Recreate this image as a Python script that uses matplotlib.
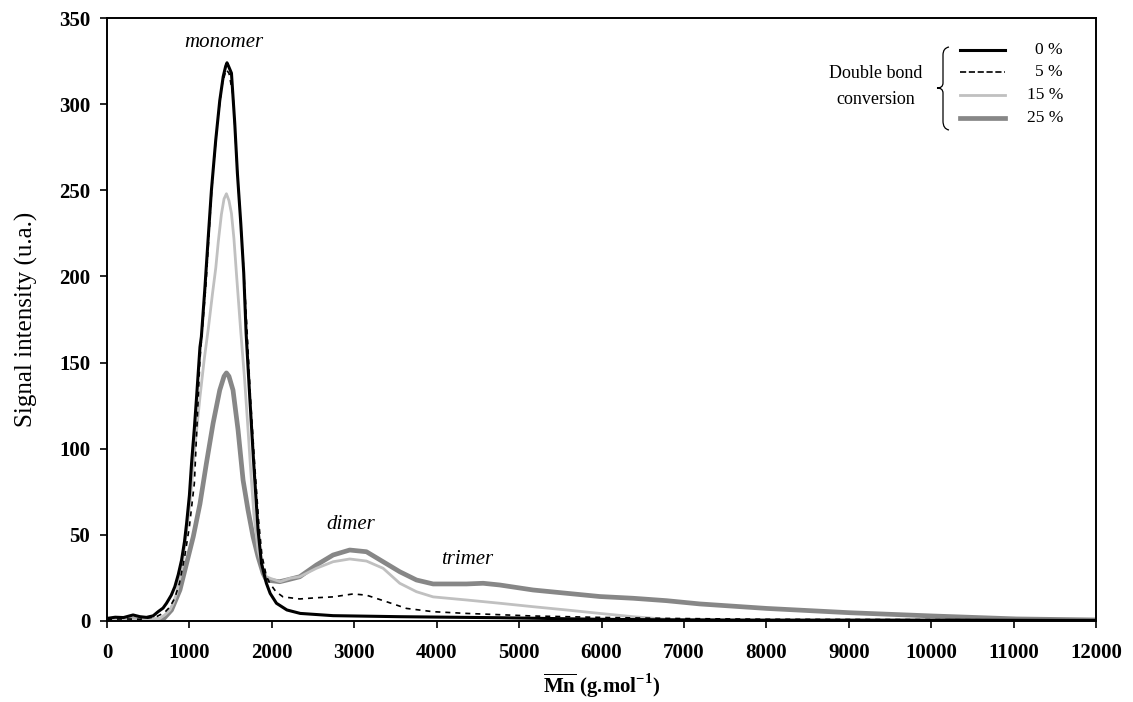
import matplotlib
matplotlib.use("Agg")
import matplotlib.pyplot as plt
from matplotlib.path import Path
from matplotlib.patches import PathPatch

plt.rcParams["font.family"] = ["Liberation Serif", "DejaVu Serif"]
plt.rcParams["mathtext.fontset"] = "custom"
plt.rcParams["mathtext.rm"] = "Liberation Serif"
plt.rcParams["mathtext.bf"] = "Liberation Serif:bold"

# Data (Mn in g/mol, signal in u.a.)
x_0 = [0, 100, 200, 316, 400, 479, 560, 620, 680, 722, 780, 823, 865, 905, 940,
       966, 1000, 1026, 1060, 1087, 1128, 1145, 1186, 1226, 1267, 1319, 1368,
       1410, 1440, 1456, 1475, 1510, 1550, 1582, 1623, 1659, 1688, 1732, 1780,
       1833, 1874, 1934, 1980, 2056, 2183, 2345, 2743, 3552, 4766, 5980, 7000,
       8000, 9000, 10000, 11000, 12000]
y_0 = [1.5, 2.2, 2.0, 3.5, 2.5, 2.1, 3.0, 5.4, 7.5, 10.3, 15, 19.9, 27, 35.4, 46,
       56.7, 73, 91.5, 112, 130, 159, 165, 192, 221, 250, 279, 302,
       316, 322, 324, 322, 318, 289, 260, 231, 202, 167, 130, 91.5,
       52.8, 33.5, 21.9, 16, 10.3, 6.4, 4.4, 3.1, 2.5, 1.9, 1.0, 0.6,
       0.5, 0.5, 0.5, 0.4, 0.3]

x_5 = [0, 200, 400, 600, 700, 760, 820, 880, 945, 1000, 1060, 1128, 1200, 1270,
       1340, 1400, 1445, 1480, 1530, 1580, 1620, 1660, 1700, 1740, 1790, 1840,
       1880, 1934, 1975, 2050, 2136, 2339, 2543, 2743, 2986, 3148, 3391, 3634,
       3957, 4362, 5170, 5980, 6789, 8000, 10000, 12000]
y_5 = [1.0, 1.2, 1.0, 2.5, 5.0, 8, 13, 22, 38, 55, 80, 152, 195, 250,
       290, 312, 320, 318, 305, 262, 233, 203, 168, 130, 92, 58,
       38, 26, 21.9, 17, 14, 12.8, 13.5, 14, 15.7, 15, 11.2, 7.3,
       5.4, 4.4, 2.9, 2.1, 1.5, 1.0, 0.8, 0.5]

x_15 = [0, 300, 500, 641, 700, 763, 800, 844, 905, 957, 1006, 1067, 1128, 1180,
        1230, 1280, 1320, 1350, 1388, 1420, 1449, 1480, 1510, 1540, 1570, 1623,
        1670, 1710, 1740, 1782, 1833, 1894, 1934, 1980, 2100, 2223, 2339, 2541,
        2743, 2945, 3148, 3350, 3552, 3755, 3957, 4362, 4766, 5170, 5575, 5980,
        6384, 6789, 7300, 7600]
y_15 = [0.8, 0.8, 0.6, 1.5, 3.5, 6.4, 10, 16, 29.6, 49, 68, 101, 130, 152,
        170, 190, 205, 220, 236, 245, 248, 244, 236.6, 222, 202, 168,
        140, 112, 90, 62, 41, 29.6, 25.7, 24.8, 22.8, 24.8, 25.7, 30.6,
        34.4, 36, 34.8, 30.6, 21.9, 17, 14, 12.2, 10.3, 8.3, 6.4, 4.4,
        2.5, 1.0, 0.8, 0.2]

x_25 = [0, 300, 500, 600, 681, 783, 885, 966, 1047, 1128, 1206, 1287, 1368, 1420,
        1449, 1480, 1529, 1590, 1651, 1711, 1772, 1833, 1894, 1934, 1980, 2096,
        2200, 2339, 2541, 2743, 2945, 3148, 3350, 3552, 3755, 3957, 4362, 4564,
        4766, 5170, 5575, 5980, 6384, 6789, 7194, 8003, 9015, 10026, 11036, 12000]
y_25 = [0.8, 0.8, 0.6, 0.6, 1.0, 6.4, 18, 33.5, 49, 68, 91.5, 114.7, 134, 142,
        144, 142, 134, 110.9, 81.8, 64.4, 49, 37.3, 27.7, 23.8, 23.5, 22.8,
        24, 25.7, 32.5, 38.3, 41.2, 40.2, 34.4, 28.6, 23.8, 21.5, 21.5, 21.9,
        20.9, 18, 16.1, 14.2, 13.2, 11.8, 9.9, 7.3, 4.8, 2.9, 1.2, 0.6]

labels = ["0 %", "5 %", "15 %", "25 %"]
x_ticks = list(range(0, 12001, 1000))
y_ticks = list(range(0, 351, 50))

fig = plt.figure(figsize=(11.33, 7.02), dpi=100)
ax = fig.add_axes([107 / 1133, 1 - 621 / 702, 989 / 1133, 603 / 702])

l25, = ax.plot(x_25, y_25, color="#878787", lw=3.4, solid_joinstyle="round")
l15, = ax.plot(x_15, y_15, color="#c0c0c0", lw=2.0)
l5, = ax.plot(x_5, y_5, color="black", lw=1.2, ls=(0, (3, 3)))
l0, = ax.plot(x_0, y_0, color="black", lw=2.2)

ax.set_xlim(0, 12000)
ax.set_ylim(0, 350)
ax.set_xticks(x_ticks)
ax.set_yticks(y_ticks)
ax.tick_params(direction="out", length=5, width=1.2, labelsize=15)
ax.tick_params(axis="x", pad=11)
ax.tick_params(axis="y", pad=7)
for t in ax.get_xticklabels() + ax.get_yticklabels():
    t.set_fontweight("bold")
for s in ax.spines.values():
    s.set_linewidth(1.4)

ax.set_ylabel("Signal intensity (u.a.)", fontsize=18, labelpad=15)
ax.set_xlabel(r"$\overline{\mathbf{Mn}}$ (g.mol$^{\mathbf{-1}}$)",
              fontsize=15, fontweight="bold", labelpad=6)

# peak annotations
ax.text(1419, 336, "monomer", style="italic", fontsize=15, ha="center", va="center")
ax.text(2960, 56, "dimer", style="italic", fontsize=15, ha="center", va="center")
ax.text(4365, 35.5, "trimer", style="italic", fontsize=15, ha="center", va="center")


# legend, drawn by hand in pixel positions of the original
def fx(px):
    return (px - 107) / 989


def fy(py):
    return (621 - py) / 603


for line, lab, py in zip([l0, l5, l15, l25], labels, [50, 72, 95, 118]):
    ax.plot([fx(960), fx(1005)], [fy(py), fy(py)], transform=ax.transAxes,
            color=line.get_color(), lw=line.get_linewidth(),
            ls=line.get_linestyle(), clip_on=False)
    ax.text(fx(1063), fy(py), lab, transform=ax.transAxes, fontsize=12.5,
            ha="right", va="center")

ax.text(fx(876), fy(74), "Double bond", transform=ax.transAxes, fontsize=13,
        ha="center", va="center")
ax.text(fx(876), fy(100), "conversion", transform=ax.transAxes, fontsize=13,
        ha="center", va="center")

brace_px = [(949, 47), (943, 48), (943, 55), (943, 83), (943, 88), (937, 88),
            (943, 88), (943, 93), (943, 121), (943, 129), (949, 130)]
codes = [Path.MOVETO, Path.CURVE3, Path.CURVE3, Path.LINETO, Path.CURVE3,
         Path.CURVE3, Path.CURVE3, Path.CURVE3, Path.LINETO, Path.CURVE3, Path.CURVE3]
brace = Path([(fx(a), fy(b)) for a, b in brace_px], codes)
ax.add_patch(PathPatch(brace, transform=ax.transAxes, fill=False, lw=0.9,
                       edgecolor="black", clip_on=False))

fig.savefig("out.png", dpi=100)
